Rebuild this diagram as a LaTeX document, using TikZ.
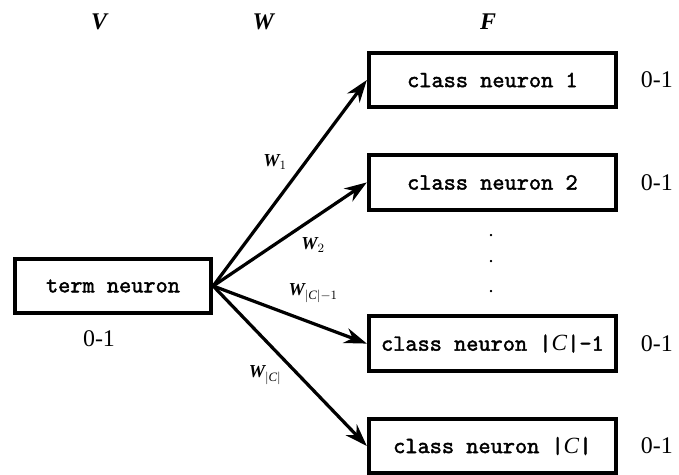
\documentclass[tikz,border=0pt]{standalone}
\usepackage{fontspec}
\setmainfont{Liberation Serif}
\newfontfamily\neuronfont{lmmono10-regular.otf}[FakeBold=1.8]
\usetikzlibrary{arrows.meta, positioning}

\begin{document}
\begin{tikzpicture}[
    >={Stealth[length=16pt, width=11pt]},
    neuron/.style={rectangle, draw=black, line width=2.8pt, minimum width=#1,
      minimum height=1.36cm, inner sep=0pt, align=center,
      font=\neuronfont\fontsize{16.5}{18}\selectfont},
    neuron/.default=6.18cm,
    rangelabel/.style={font=\fontsize{17}{19}\selectfont},
    layer/.style={font=\bfseries\itshape\fontsize{17}{19}\selectfont},
    weight/.style={font=\bfseries\itshape\fontsize{13}{15}\selectfont},
    link/.style={->, line width=2.3pt}
  ]
  \useasboundingbox (0,0) rectangle (16.975,-11.875);
  % layer titles
  \node[layer] (lv) at (2.48,-0.55) {V};
  \node[layer] (lw) at (6.58,-0.55) {W};
  \node[layer] (lf) at (12.2,-0.55) {F};
  % neurons
  \node[neuron=4.91cm] (term) at (2.825,-7.15) {term neuron};
  \node[neuron] (c1) at (12.31,-2.0) {class neuron 1};
  \node[neuron] (c2) at (12.31,-4.56) {class neuron 2};
  \node[neuron] (c3) at (12.31,-8.59) {class neuron |\textit{\rmfamily C}|-1};
  \node[neuron] (c4) at (12.31,-11.15) {class neuron |\textit{\rmfamily C}|};
  % dots between the classes
  \foreach \y/\n in {-5.88/d1, -6.55/d2, -7.3/d3}
    \node[font=\bfseries] (\n) at (12.28,\y) {.};
  % connections
  \foreach \c in {c1, c2, c3, c4} {
    \draw[link] (term.east) -- (\c.west);
  }
  \node[weight] (w1) at (6.88,-4.05) {W$_{1}$};
  \node[weight] (w2) at (7.83,-6.13) {W$_{2}$};
  \node[weight] (w3) at (7.83,-7.33) {W$_{|\mathit{C}|-1}$};
  \node[weight] (w4) at (6.63,-9.38) {W$_{|\mathit{C}|}$};
  % output ranges
  \foreach \c in {c1, c2, c3, c4} {
    \node[rangelabel, right=0.45cm of \c] (r\c) {0-1};
  }
  \node[rangelabel, below=0.25cm of term, xshift=-0.35cm] (rterm) {0-1};
\end{tikzpicture}
\end{document}
